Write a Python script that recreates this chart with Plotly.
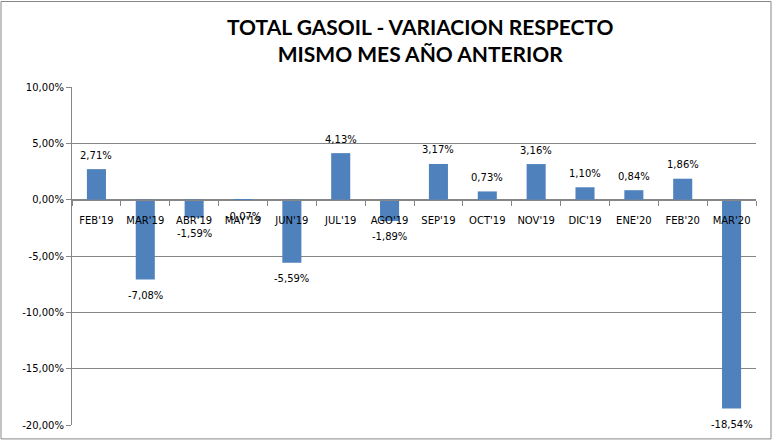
import plotly.graph_objects as go

categories = ["FEB'19", "MAR'19", "ABR'19", "MAY'19", "JUN'19", "JUL'19", "AGO'19",
              "SEP'19", "OCT'19", "NOV'19", "DIC'19", "ENE'20", "FEB'20", "MAR'20"]
values = [2.71, -7.08, -1.59, -0.07, -5.59, 4.13, -1.89, 3.17, 0.73, 3.16, 1.10, 0.84, 1.86, -18.54]
y_ticks = [10, 5, 0, -5, -10, -15, -20]

def fmt(v):
    return ("-" if v < 0 else "") + f"{abs(v):.2f}".replace(".", ",") + "%"

labels = [fmt(v) for v in values]
y_ticktext = [fmt(v) for v in y_ticks]

W, H = 773, 443
L, R, T, B = 72, 17, 87, 16
pw, ph = W - L - R, H - T - B
ymin, ymax = -20, 10

FONT = "DejaVu Sans"
fig = go.Figure(go.Bar(
    x=categories, y=values,
    marker=dict(color="#4F81BD", line=dict(width=0)),
    width=0.39, hoverinfo="skip",
))

annotations = [dict(
    x=c, y=v, xref="x", yref="y", text=t, showarrow=False,
    xanchor="center", yanchor="middle", yshift=14 if v >= 0 else -16,
    font=dict(family=FONT, size=10, color="black"),
) for c, v, t in zip(categories, values, labels)]

annotations.append(dict(
    text="<b>TOTAL GASOIL - VARIACION RESPECTO<br>MISMO MES AÑO ANTERIOR</b>",
    xref="paper", yref="paper", x=(421 - L) / pw, y=(H - B - 40) / ph,
    xanchor="center", yanchor="middle", showarrow=False,
    font=dict(family="Lato", size=21, color="black"),
))

fig.update_layout(
    width=W, height=H, margin=dict(l=L, r=R, t=T, b=B, pad=0),
    paper_bgcolor="white", plot_bgcolor="white", showlegend=False,
    font=dict(family=FONT, size=10, color="black"),
    xaxis=dict(
        anchor="free", position=(0 - ymin) / (ymax - ymin),
        showline=True, linecolor="#868686", linewidth=1,
        ticks="outside", tickson="boundaries", ticklen=5, tickcolor="#868686",
        ticklabelstandoff=11,
        showgrid=False, tickfont=dict(family=FONT, size=10, color="black"),
        range=[-0.5, len(categories) - 0.5], zeroline=False, fixedrange=True,
    ),
    yaxis=dict(
        range=[ymin, ymax], tickvals=y_ticks, ticktext=y_ticktext,
        showline=True, linecolor="#868686", linewidth=1,
        ticks="outside", ticklen=5, tickcolor="#868686",
        showgrid=True, gridcolor="#868686", gridwidth=1, zeroline=False,
        tickfont=dict(family=FONT, size=10, color="black"), fixedrange=True,
    ),
    annotations=annotations,
    shapes=[dict(
        type="rect", xref="paper", yref="paper",
        x0=(1 - L) / pw, x1=(771 - L) / pw,
        y0=(H - B - 441) / ph, y1=(H - B - 1) / ph,
        line=dict(color="#878787", width=1), fillcolor="rgba(0,0,0,0)", layer="below",
    )],
)

fig.write_html("out.html", config={"displayModeBar": False},
               post_script="document.body.style.margin='0px';document.body.style.padding='0px';")
